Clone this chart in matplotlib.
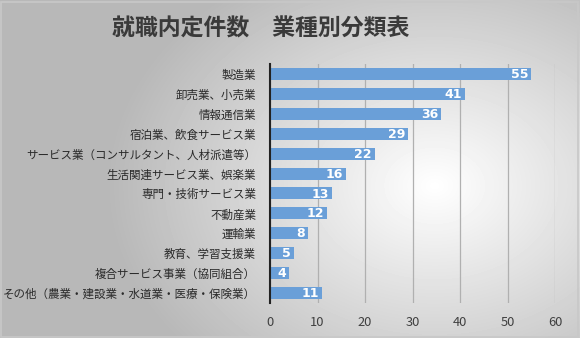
import matplotlib.pyplot as plt
import numpy as np

plt.rcParams['font.family'] = ['Noto Sans CJK JP', 'DejaVu Sans']

# データ
categories = ['製造業', '卸売業、小売業', '情報通信業', '宿泊業、飲食サービス業',
              'サービス業（コンサルタント、人材派遣等）', '生活関連サービス業、娯楽業',
              '専門・技術サービス業', '不動産業', '運輸業', '教育、学習支援業',
              '複合サービス事業（協同組合）', 'その他（農業・建設業・水道業・医療・保険業）']
values = [55, 41, 36, 29, 22, 16, 13, 12, 8, 5, 4, 11]
xticks = [0, 10, 20, 30, 40, 50, 60]

fig = plt.figure(figsize=(5.8, 3.38), dpi=100)

# 背景のグラデーション
bg = fig.add_axes([0, 0, 1, 1], zorder=-10)
yy, xx = np.mgrid[0:1:338j, 0:1:580j]
r = np.sqrt(((xx - 0.75) * 1.3) ** 2 + ((yy - 0.55) * 1.0) ** 2)
shade = np.clip(1.0 - r * 0.38, 0.72, 1.0)
bg.imshow(shade, cmap='gray', vmin=0, vmax=1, extent=[0, 1, 0, 1], aspect='auto')
bg.add_patch(plt.Rectangle((0.002, 0.003), 0.995, 0.992, fill=False,
                           edgecolor='#c8c8c8', lw=1.2, transform=bg.transAxes))
bg.axis('off')

ax = fig.add_axes([270 / 580, 1 - 303 / 338, 285 / 580, 239 / 338])
ax.set_facecolor('none')
y = np.arange(len(categories))
bars = ax.barh(y, values, height=0.6, color='#6A9FD8', zorder=3)
for yi, v in zip(y, values):
    ax.text(v - 0.6, yi + 0.03, str(v), ha='right', va='center', color='white',
            fontsize=9, fontweight='bold', family=['DejaVu Sans'], zorder=4)

ax.set_yticks(y)
ax.set_yticklabels(categories, fontsize=8.3, color='#2a2a2a')
ax.invert_yaxis()
ax.set_ylim(11.5, -0.5)
ax.set_xlim(0, 60)
ax.set_xticks(xticks)
ax.tick_params(axis='x', labelsize=9.3, colors='#404040', length=0, pad=9)
ax.tick_params(axis='y', length=0, pad=10)
ax.grid(axis='x', color='#b0b0b0', lw=0.9, zorder=0)
for s in ['top', 'right', 'bottom']:
    ax.spines[s].set_visible(False)
ax.spines['left'].set_color('#222222')
ax.spines['left'].set_linewidth(1.5)
ax.spines['left'].set_zorder(5)

fig.text(261 / 580, 1 - 29 / 338, '就職内定件数　業種別分類表', ha='center', va='center',
         fontsize=16.5, fontweight='bold', color='#3a3a3a')

fig.savefig('out.png', dpi=100)
